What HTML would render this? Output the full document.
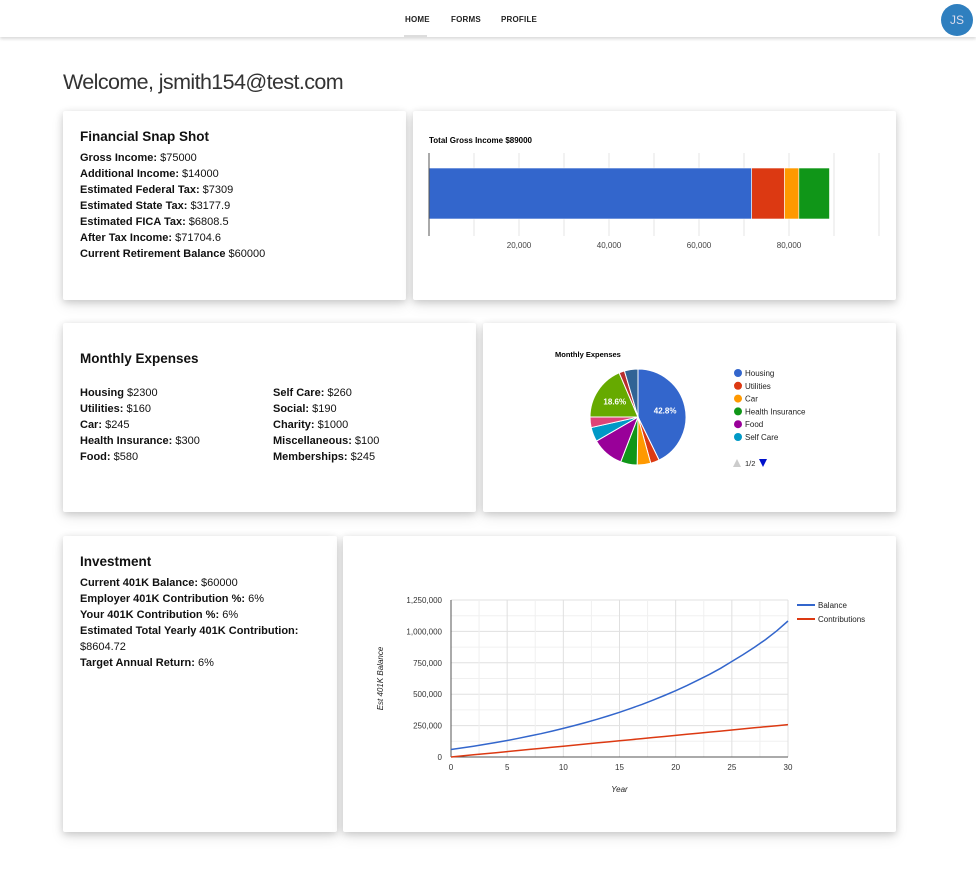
<!DOCTYPE html>
<html><head><meta charset="utf-8">
<style>
*{box-sizing:border-box;margin:0;padding:0}
body{width:976px;height:873px;background:#fff;font-family:"Liberation Sans",sans-serif;position:relative;overflow:hidden;color:#111}
.nav{position:absolute;left:0;top:0;width:976px;height:37px;background:#fff;box-shadow:0 2px 3px rgba(0,0,0,.15)}
.nav a{position:absolute;top:15px;font-size:8px;font-weight:bold;color:#222;text-decoration:none;letter-spacing:.2px}
.avatar{position:absolute;left:941px;top:4px;width:32px;height:32px;border-radius:50%;background:#2f7fbf;color:#dde;font-size:12px;text-align:center;line-height:32px}
h1{position:absolute;left:63px;top:70px;font-size:21.5px;font-weight:normal;color:#333;letter-spacing:-.6px}
.card{position:absolute;background:#fff;border-radius:2px;box-shadow:0 2px 8px rgba(0,0,0,.18),0 6px 14px rgba(0,0,0,.08)}
.card h2{font-size:13.5px;font-weight:bold;margin-bottom:6px}
.row{font-size:11px;line-height:16px;white-space:nowrap}
.row b{font-weight:bold}
svg text{font-family:"Liberation Sans",sans-serif}
</style></head><body>
<div class="nav">
<a style="left:405px">HOME</a>
<div style="position:absolute;left:404px;top:35px;width:23px;height:2px;background:#ddd"></div>
<a style="left:451px">FORMS</a>
<a style="left:501px">PROFILE</a>
<div class="avatar">JS</div>
</div>
<h1>Welcome, jsmith154@test.com</h1>

<div class="card" style="left:63px;top:111px;width:343px;height:189px;padding:18px 17px">
<h2>Financial Snap Shot</h2>
<div class="row"><b>Gross Income:</b> $75000</div>
<div class="row"><b>Additional Income:</b> $14000</div>
<div class="row"><b>Estimated Federal Tax:</b> $7309</div>
<div class="row"><b>Estimated State Tax:</b> $3177.9</div>
<div class="row"><b>Estimated FICA Tax:</b> $6808.5</div>
<div class="row"><b>After Tax Income:</b> $71704.6</div>
<div class="row"><b>Current Retirement Balance</b> $60000</div>
</div>

<div class="card" style="left:413px;top:111px;width:483px;height:189px">
<svg id="bar" width="483" height="189"></svg>
</div>

<div class="card" style="left:63px;top:323px;width:413px;height:189px;padding:28px 17px">
<h2 style="margin-bottom:18px">Monthly Expenses</h2>
<div style="position:absolute;left:17px;top:62px">
<div class="row"><b>Housing</b> $2300</div>
<div class="row"><b>Utilities:</b> $160</div>
<div class="row"><b>Car:</b> $245</div>
<div class="row"><b>Health Insurance:</b> $300</div>
<div class="row"><b>Food:</b> $580</div>
</div>
<div style="position:absolute;left:210px;top:62px">
<div class="row"><b>Self Care:</b> $260</div>
<div class="row"><b>Social:</b> $190</div>
<div class="row"><b>Charity:</b> $1000</div>
<div class="row"><b>Miscellaneous:</b> $100</div>
<div class="row"><b>Memberships:</b> $245</div>
</div>
</div>

<div class="card" style="left:483px;top:323px;width:413px;height:189px">
<svg id="pie" width="413" height="189"></svg>
</div>

<div class="card" style="left:63px;top:536px;width:274px;height:296px;padding:18px 17px">
<h2>Investment</h2>
<div class="row"><b>Current 401K Balance:</b> $60000</div>
<div class="row"><b>Employer 401K Contribution %:</b> 6%</div>
<div class="row"><b>Your 401K Contribution %:</b> 6%</div>
<div class="row"><b>Estimated Total Yearly 401K Contribution:</b></div>
<div class="row">$8604.72</div>
<div class="row"><b>Target Annual Return:</b> 6%</div>
</div>

<div class="card" style="left:343px;top:536px;width:553px;height:296px">
<svg id="line" width="553" height="296"></svg>
</div>

<script>
const NS="http://www.w3.org/2000/svg";
function mk(p,t,a,txt){const e=document.createElementNS(NS,t);for(const k in a)e.setAttribute(k,a[k]);if(txt!==undefined)e.textContent=txt;p.appendChild(e);return e;}

// ---- Bar chart data ----
const incomeCategories=["After Tax Income","Federal Tax","State Tax","FICA Tax"];
const incomeValues=[71704.6,7309,3177.9,6808.5];
const incomeColors=["#3366cc","#dc3912","#ff9900","#109618"];
const incomeTicks=[20000,40000,60000,80000];
const incomeTickLabels=["20,000","40,000","60,000","80,000"];

(function(){
const s=document.getElementById('bar');
const x0=16,xmax=100000,pw=450;
const X=v=>x0+v/xmax*pw;
let t=mk(s,'text',{x:16,y:32,'font-size':8,'font-weight':'bold',fill:'#000'},"Total Gross Income $"+Math.round(incomeValues.reduce((a,b)=>a+b,0)));


for(let v=10000;v<=xmax;v+=10000){const g=mk(s,'line',{x1:X(v),x2:X(v),y1:42,y2:125,stroke:'#e4e4e4','stroke-width':1});

}
let acc=0;
incomeValues.forEach((v,i)=>{const r=mk(s,'rect',{x:X(acc),y:57,width:X(acc+v)-X(acc),height:51,fill:incomeColors[i],stroke:'#fff','stroke-width':0.6});


acc+=v;});
const ax=mk(s,'line',{x1:X(0),x2:X(0),y1:42,y2:125,stroke:'#555','stroke-width':1});


incomeTicks.forEach((v,i)=>{const l=mk(s,'text',{x:X(v),y:137,'font-size':8,fill:'#444','text-anchor':'middle'},incomeTickLabels[i]);

});
})();

// ---- Pie chart data ----
const pieLabels=["Housing","Utilities","Car","Health Insurance","Food","Self Care","Social","Charity","Miscellaneous","Memberships"];
const pieValues=[2300,160,245,300,580,260,190,1000,100,245];
const pieColors=["#3366cc","#dc3912","#ff9900","#109618","#990099","#0099c6","#dd4477","#66aa00","#b82e2e","#316395"];

(function(){
const s=document.getElementById('pie');
const cx=155,cy=94,r=48;
let t=mk(s,'text',{x:72,y:34,'font-size':7.5,'font-weight':'bold',fill:'#000'},"Monthly Expenses");


const tot=pieValues.reduce((a,b)=>a+b,0);
let a0=0;
pieValues.forEach((v,i)=>{
const a1=a0+v/tot*2*Math.PI;
const p=(a)=>[cx+r*Math.sin(a),cy-r*Math.cos(a)];
const [x1,y1]=p(a0),[x2,y2]=p(a1);
const d=`M${cx},${cy}L${x1},${y1}A${r},${r} 0 ${a1-a0>Math.PI?1:0} 1 ${x2},${y2}Z`;
const sl=mk(s,'path',{d:d,fill:pieColors[i],stroke:'#fff','stroke-width':1});


const pct=v/tot*100;
if(pct>15){const m=(a0+a1)/2;const lb=mk(s,'text',{x:cx+r*0.58*Math.sin(m),y:cy-r*0.58*Math.cos(m)+3,'font-size':8,'font-weight':'bold',fill:'#fff','text-anchor':'middle'},pct.toFixed(1)+"%");

}
a0=a1;});
for(let i=0;i<6;i++){
const y=50+i*12.8;
const c=mk(s,'circle',{cx:255,cy:y,r:4,fill:pieColors[i]});


const l=mk(s,'text',{x:262,y:y+3,'font-size':8,fill:'#222'},pieLabels[i]);

}
const up=mk(s,'path',{d:'M250,144L254,136L258,144Z',fill:'#ccc'});


const pg=mk(s,'text',{x:262,y:143,'font-size':7.5,fill:'#222'},"1/2");


const dn=mk(s,'path',{d:'M276,136L284,136L280,144Z',fill:'#0011cc'});


})();

// ---- Line chart data ----
const years=[0,1,2,3,4,5,6,7,8,9,10,11,12,13,14,15,16,17,18,19,20,21,22,23,24,25,26,27,28,29,30];
const balanceValues=[60000,72700,86200,100500,115600,131700,148700,166800,185900,206200,227700,250500,274600,300200,327300,356100,386600,418900,453200,489500,528000,568700,612000,657800,706400,760000,815000,873000,935000,1005000,1083000];
const contribValues=[0,8600,17200,25800,34400,43000,51600,60200,68800,77400,86000,94700,103300,111900,120500,129100,137700,146300,154900,163500,172100,180700,189300,197900,206500,215100,223700,232300,240900,249500,258100];
const yTicks=[0,250000,500000,750000,1000000,1250000];
const yTickLabels=["0","250,000","500,000","750,000","1,000,000","1,250,000"];
const xTicks=[0,5,10,15,20,25,30];
const seriesNames=["Balance","Contributions"];

(function(){
const s=document.getElementById('line');
const L=108,R=445,T=64,B=221;
const X=v=>L+v/30*(R-L), Y=v=>B-v/1250000*(B-T);
for(let v=0;v<=1250000;v+=125000){const g=mk(s,'line',{x1:L,x2:R,y1:Y(v),y2:Y(v),stroke:v%250000?'#f0f0f0':'#e0e0e0'});

}
for(let v=0;v<=30;v+=2.5){const g=mk(s,'line',{x1:X(v),x2:X(v),y1:T,y2:B,stroke:v%5?'#f0f0f0':'#e0e0e0'});

}
const ya=mk(s,'line',{x1:L,x2:L,y1:T,y2:B,stroke:'#555'});


const xa=mk(s,'line',{x1:L,x2:R,y1:B,y2:B,stroke:'#555'});


yTicks.forEach((v,i)=>{const l=mk(s,'text',{x:L-9,y:Y(v)+3,'font-size':8,fill:'#333','text-anchor':'end'},yTickLabels[i]);

});
xTicks.forEach(v=>{const l=mk(s,'text',{x:X(v),y:B+13,'font-size':8,fill:'#333','text-anchor':'middle'},String(v));

});
const xt=mk(s,'text',{x:(L+R)/2,y:B+35,'font-size':8,'font-style':'italic',fill:'#222','text-anchor':'middle'},"Year");


const yt=mk(s,'text',{x:0,y:0,'font-size':8,'font-style':'italic',fill:'#222','text-anchor':'middle',transform:`translate(40,${(T+B)/2}) rotate(-90)`},"Est 401K Balance");


const cols=["#3366cc","#dc3912"];
[balanceValues,contribValues].forEach((arr,k)=>{
const d=arr.map((v,i)=>(i?'L':'M')+X(years[i]).toFixed(1)+','+Y(v).toFixed(1)).join('');
const p=mk(s,'path',{d:d,fill:'none',stroke:cols[k],'stroke-width':1.5});


const ly=69+k*14;
const sw=mk(s,'line',{x1:454,x2:472,y1:ly,y2:ly,stroke:cols[k],'stroke-width':2});


const lt=mk(s,'text',{x:475,y:ly+3,'font-size':8,fill:'#222'},seriesNames[k]);

});
})();
</script>
</body></html>
